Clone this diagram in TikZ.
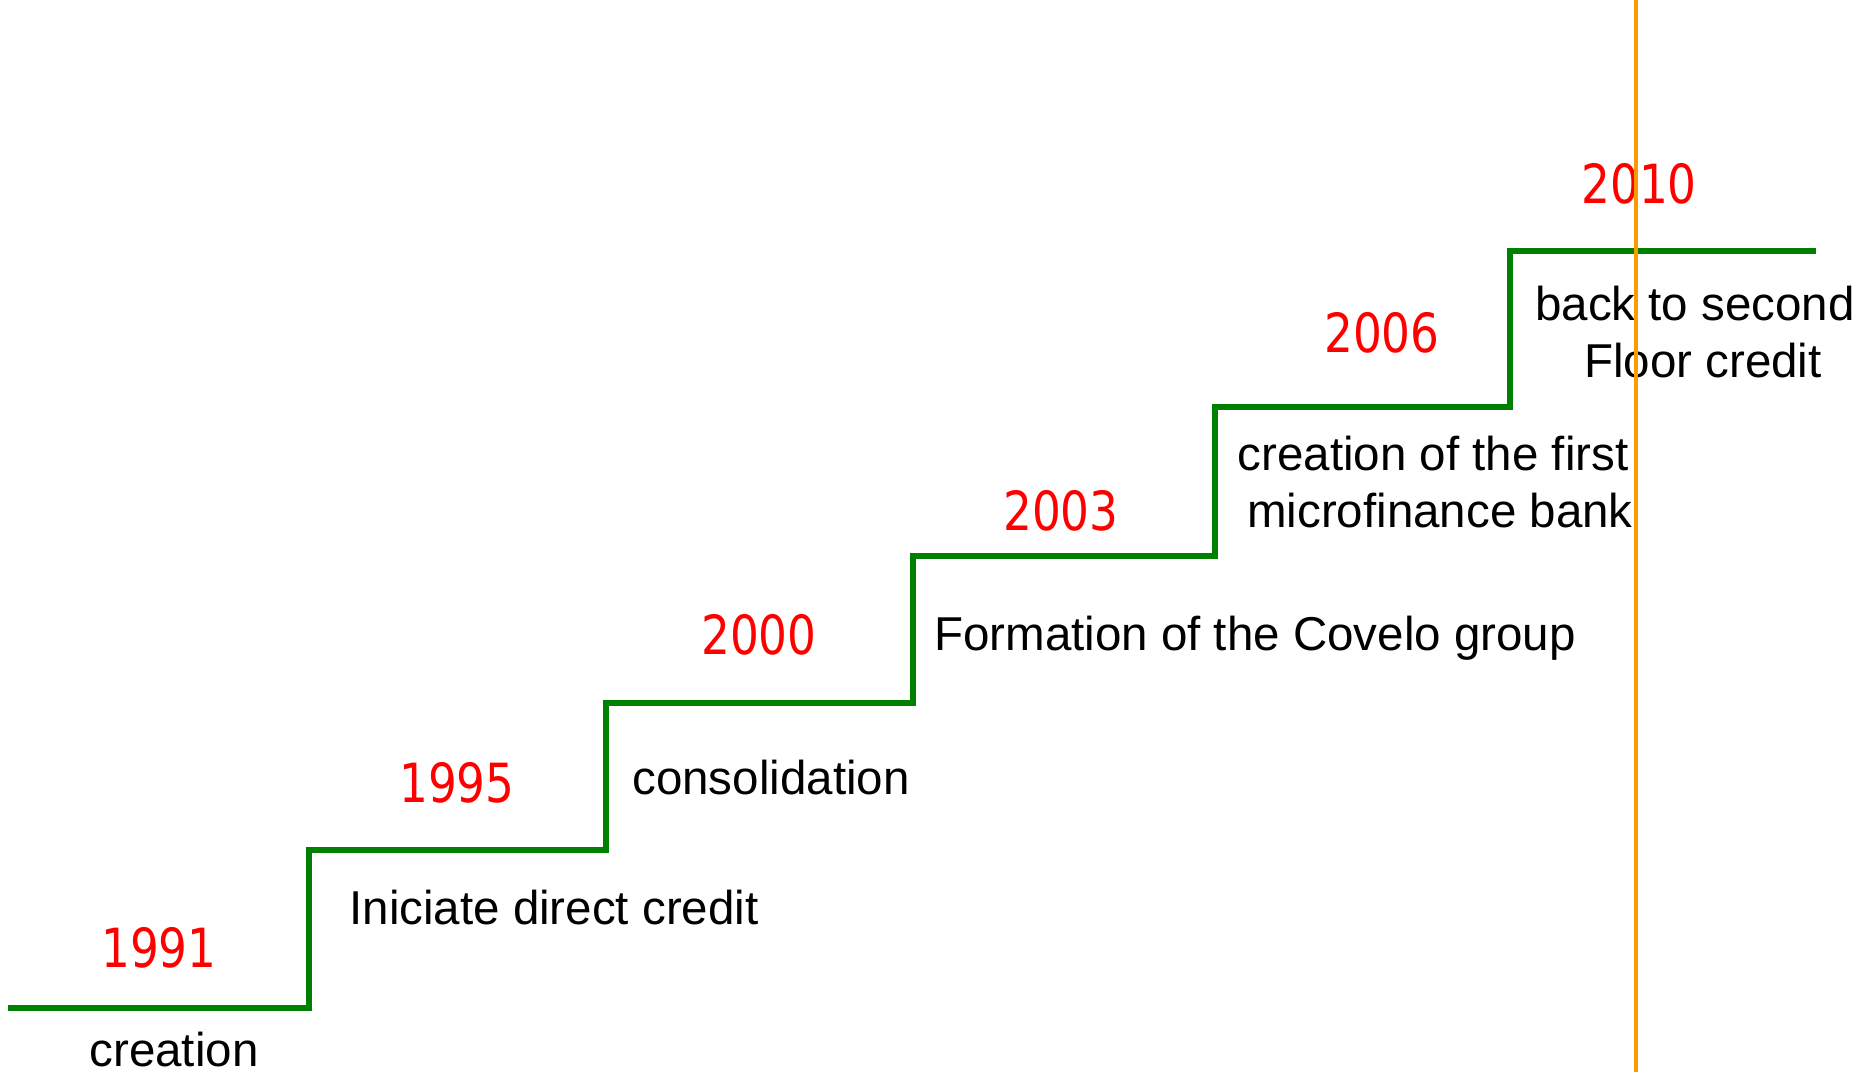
\documentclass[tikz,border=0pt]{standalone}
\usepackage{fontspec}
\setmainfont{Liberation Sans}
\newfontfamily\yearfont[FakeStretch=0.84]{DejaVu Sans}
\definecolor{stepgreen}{RGB}{0,128,0}
\definecolor{nowline}{RGB}{255,153,0}
\definecolor{yearred}{RGB}{255,0,0}
\begin{document}
\begin{tikzpicture}[x=1pt,y=-1pt,
  stairs/.style={draw=stepgreen,line width=5.5pt,line join=miter},
  yearlbl/.style={anchor=base,inner sep=0pt,text=yearred,font=\yearfont\fontsize{54}{60}\selectfont},
  eventlbl/.style={anchor=base,inner sep=0pt,text=black,font=\fontsize{47.5}{57}\selectfont},
  marker/.style={draw=nowline,line width=4pt}]
\useasboundingbox (0,0) rectangle (1862,1072);
% step corners
\coordinate (s0) at (8,1008);
\coordinate (s1) at (309,1008);
\coordinate (s2) at (309,850);
\coordinate (s3) at (606,850);
\coordinate (s4) at (606,703);
\coordinate (s5) at (913,703);
\coordinate (s6) at (913,556);
\coordinate (s7) at (1215,556);
\coordinate (s8) at (1215,407);
\coordinate (s9) at (1510,407);
\coordinate (s10) at (1510,251);
\coordinate (s11) at (1816,251);
\draw[stairs] (s0) -- (s1) -- (s2) -- (s3) -- (s4) -- (s5) -- (s6) -- (s7) -- (s8) -- (s9) -- (s10) -- (s11);
% years
\node[yearlbl] (y1991) at (159,967) {1991};
\node[yearlbl] (y1995) at (457,802) {1995};
\node[yearlbl] (y2000) at (759,654) {2000};
\node[yearlbl] (y2003) at (1061,530) {2003};
\node[yearlbl] (y2006) at (1382,352) {2006};
\node[yearlbl] (y2010) at (1639,203) {2010};
% events
\node[eventlbl] (e1991) at (174,1066) {creation};
\node[eventlbl] (e1995) at (554,924) {Iniciate direct credit};
\node[eventlbl] (e2000) at (771,794) {consolidation};
\node[eventlbl] (e2003) at (1255,650) {Formation of the Covelo group};
\node[eventlbl] (e2006a) at (1433,470) {creation of the first};
\node[eventlbl] (e2006b) at (1440,527) {microfinance bank};
\node[eventlbl] (e2010a) at (1695,320) {back to second};
\node[eventlbl] (e2010b) at (1703,377) {Floor credit};
% current-time marker
\coordinate (mtop) at (1636,0);
\coordinate (mbot) at (1636,1072);
\draw[marker] (mtop) -- (mbot);
\end{tikzpicture}
\end{document}
